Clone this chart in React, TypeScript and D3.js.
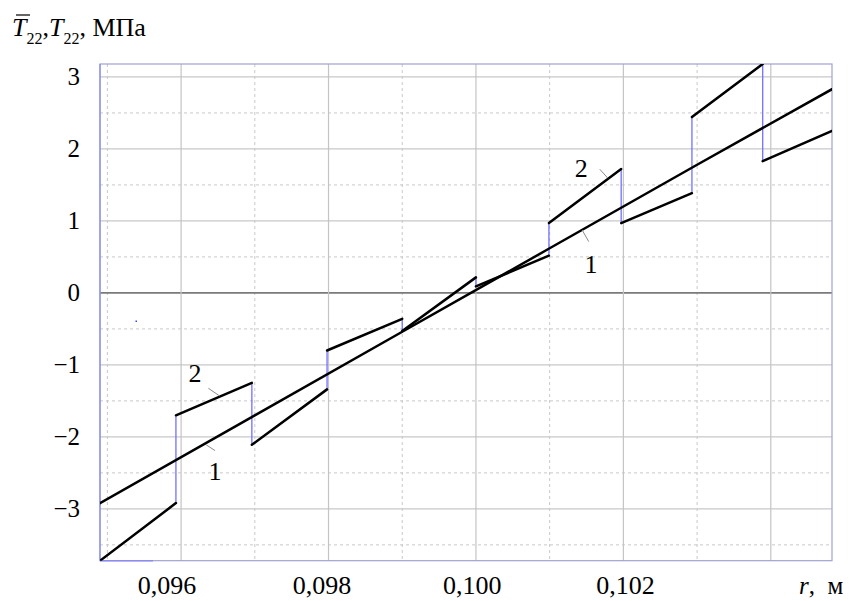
import React from "react";
import * as d3 from "d3";

// ---- data ----
// curve 1: smooth (almost linear) curve
const line1X = [0.0949, 0.097, 0.099, 0.101, 0.103, 0.10483];
const line1Y = [-2.92, -1.70, -0.54, 0.62, 1.78, 2.83];
// curve 2: piecewise (sawtooth) – boundaries and segment values
const jumpX = [0.0949, 0.09593, 0.09696, 0.09798, 0.099, 0.1, 0.10099, 0.10197, 0.10293, 0.10389, 0.10483];
const segStart = [-3.72, -1.70, -2.11, -0.80, -0.53, 0.09, 0.97, 0.97, 2.445, 1.83];
const segEnd = [-2.92, -1.25, -1.34, -0.36, 0.216, 0.517, 1.72, 1.385, 3.18, 2.25];

const yMajor = [-3, -2, -1, 0, 1, 2, 3];
const yMinor = [-3.5, -2.5, -1.5, -0.5, 0.5, 1.5, 2.5];
const yTickLabels = ["\u22123", "\u22122", "\u22121", "0", "1", "2", "3"];
const xMajor = [0.096, 0.098, 0.1, 0.102, 0.104];
const xMinor = [0.095, 0.097, 0.099, 0.101, 0.103];
const xTickLabelPos = [0.09581, 0.09791, 0.09995, 0.10203];
const xTickLabels = ["0,096", "0,098", "0,100", "0,102"];

// curve annotations: text, label position, leader line
const annText = ["2", "1", "2", "1"];
const annX = [0.09619, 0.09646, 0.10143, 0.10156];
const annY = [-1.236, -2.60, 1.61, 0.278];
const leadX0 = [0.09637, 0.09634, 0.10168, 0.10144];
const leadY0 = [-1.324, -2.11, 1.718, 0.875];
const leadX1 = [0.09652, 0.09646, 0.10179, 0.10153];
const leadY1 = [-1.43, -2.19, 1.593, 0.7125];

const X_DOMAIN = [0.0949, 0.10483];
const Y_DOMAIN = [-3.72, 3.18];

const W = 849;
const H = 601;
const FONT = "'Liberation Serif', 'Times New Roman', serif";

export default function App() {
  const x = d3.scaleLinear().domain(X_DOMAIN).range([100, 832]);
  const y = d3.scaleLinear().domain(Y_DOMAIN).range([560.7, 64]);

  const line = d3
    .line<[number, number]>()
    .x((d) => x(d[0]))
    .y((d) => y(d[1]));

  const l1 = line(line1X.map((v, i) => [v, line1Y[i]] as [number, number])) || "";

  const segs = segStart.map((s, i) =>
    line([
      [jumpX[i], s],
      [jumpX[i + 1], segEnd[i]],
    ]) || ""
  );
  const jumps = segEnd.slice(0, -1).map((e, i) => ({
    x: x(jumpX[i + 1]),
    y0: y(e),
    y1: y(segStart[i + 1]),
  }));

  const [x0, x1] = x.range();
  const [yb, yt] = y.range();

  return (
    <div style={{ position: "absolute", left: 0, top: 0 }}>
      <svg width={W} height={H} style={{ display: "block", background: "#fff" }}>
        <defs>
          <clipPath id="plotclip">
            <rect x={x0} y={yt} width={x1 - x0} height={yb - yt} />
          </clipPath>
        </defs>
        {/* minor (dashed) grid */}
        {yMinor.map((v) => (
          <line key={"ym" + v} x1={x0} x2={x1} y1={y(v)} y2={y(v)} stroke="#c8c8c8" strokeWidth={1} strokeDasharray="3,3" />
        ))}
        {xMinor.map((v) => (
          <line key={"xm" + v} x1={x(v)} x2={x(v)} y1={yt} y2={yb} stroke="#c8c8c8" strokeWidth={1} strokeDasharray="3,3" />
        ))}
        {/* major grid */}
        {yMajor.map((v) => (
          <line
            key={"yM" + v}
            x1={x0}
            x2={x1}
            y1={y(v)}
            y2={y(v)}
            stroke={v === 0 ? "#7a7a7a" : "#c8c8c8"}
            strokeWidth={v === 0 ? 1.7 : 1.2}
          />
        ))}
        {xMajor.map((v) => (
          <line key={"xM" + v} x1={x(v)} x2={x(v)} y1={yt} y2={yb} stroke="#c4c4c4" strokeWidth={1.2} />
        ))}
        {/* frame */}
        <rect x={x0} y={yt} width={x1 - x0} height={yb - yt} fill="none" stroke="#a0a0d4" strokeWidth={1.2} />
        <line x1={x0} x2={x0} y1={yt} y2={yb} stroke="#8c8cf0" strokeWidth={1.2} />
        <line x1={x0} x2={x0 + 53} y1={yb} y2={yb} stroke="#8c8cf0" strokeWidth={1.4} />

        <g clipPath="url(#plotclip)">
          {/* blue vertical jumps of curve 2 */}
          {jumps.map((j, i) => (
            <line key={"j" + i} x1={j.x} x2={j.x} y1={j.y0} y2={j.y1} stroke="#7070ff" strokeWidth={1.3} />
          ))}
          {segs.map((d, i) => (
            <path key={"s" + i} d={d} fill="none" stroke="#000" strokeWidth={2.5} strokeLinecap="round" />
          ))}
          <path d={l1} fill="none" stroke="#000" strokeWidth={2.5} strokeLinecap="round" />
        </g>

        {/* annotations */}
        {annText.map((t, i) => (
          <g key={"a" + i}>
            <line
              x1={x(leadX0[i])}
              y1={y(leadY0[i])}
              x2={x(leadX1[i])}
              y2={y(leadY1[i])}
              stroke="#8a8a8a"
              strokeWidth={1}
            />
            <text x={x(annX[i])} y={y(annY[i])} fontFamily={FONT} fontSize={26} textAnchor="middle" fill="#000">
              {t}
            </text>
          </g>
        ))}

        {/* y tick labels */}
        {yMajor.map((v, i) => (
          <text key={"yl" + v} x={80} y={y(v) + 8} fontFamily={FONT} fontSize={25} textAnchor="end" fill="#000">
            {yTickLabels[i]}
          </text>
        ))}
        {/* x tick labels */}
        {xTickLabelPos.map((v, i) => (
          <text key={"xl" + i} x={x(v)} y={594} fontFamily={FONT} fontSize={26} textAnchor="middle" fill="#000">
            {xTickLabels[i]}
          </text>
        ))}
        <text x={799} y={594} fontFamily={FONT} fontSize={25} fill="#000">
          <tspan fontStyle="italic">r</tspan>
          <tspan>,&#160; м</tspan>
        </text>

        {/* y axis title */}
        <text x={12} y={36} fontFamily={FONT} fontSize={26} fill="#000">
          <tspan fontStyle="italic">T</tspan>
          <tspan fontSize={16} dy={8}>22</tspan>
          <tspan dy={-8}>,</tspan>
          <tspan fontStyle="italic">T</tspan>
          <tspan fontSize={16} dy={8}>22</tspan>
          <tspan dy={-8}>, МПа</tspan>
        </text>
        <line x1={16} x2={30} y1={15} y2={15} stroke="#000" strokeWidth={1.2} />
        <rect x={135.5} y={320.5} width={1.5} height={1.5} fill="#4040ff" />
      </svg>
    </div>
  );
}
